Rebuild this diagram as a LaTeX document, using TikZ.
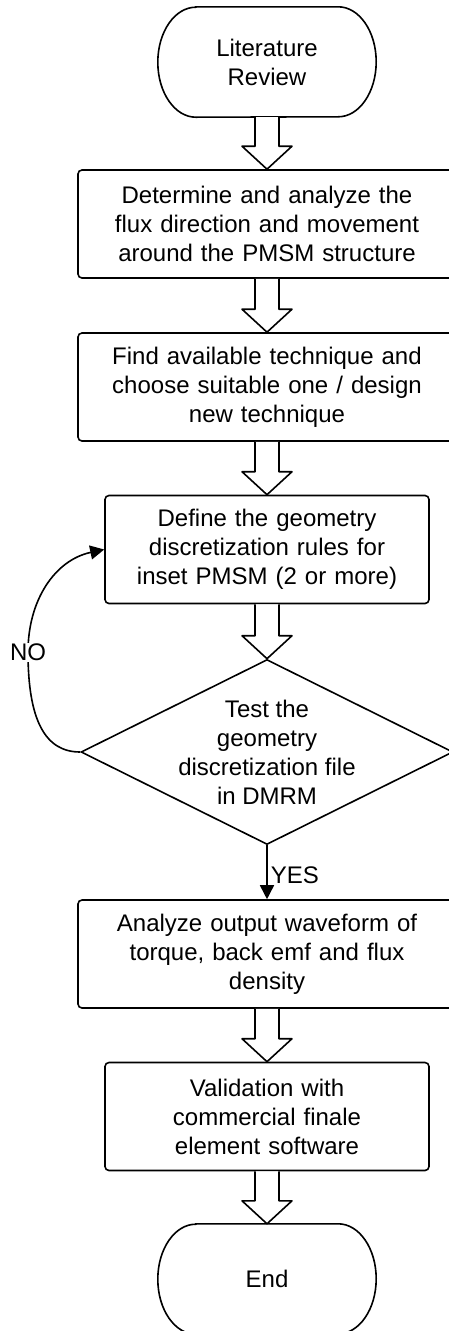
\documentclass[tikz,border=0pt]{standalone}
\usepackage{fontspec}
\setmainfont{Liberation Sans}
\usetikzlibrary{calc,shapes.geometric,arrows.meta}
\newcommand{\termshape}[1]{\draw[line] ($(#1.north west)+(38,0)$) -- ($(#1.north east)+(-38,0)$) arc[start angle=90,end angle=-90,x radius=38pt,y radius=55pt] -- ($(#1.south west)+(38,0)$) arc[start angle=-90,end angle=-270,x radius=38pt,y radius=55pt] -- cycle;}
\newcommand{\blockarr}[2]{\draw[blk] let \p1=(#1.south), \p2=(#2.north) in (\x1-12pt,\y1) -- (\x1-12pt,\y2+23pt) -- (\x1-25pt,\y2+23pt) -- (\x2,\y2) -- (\x1+25pt,\y2+23pt) -- (\x1+12pt,\y2+23pt) -- (\x1+12pt,\y1);}
\begin{document}
\begin{tikzpicture}[x=1pt,y=-1pt,
 line/.style={line width=1.6pt},
 txt/.style={font=\fontsize{24}{29}\selectfont, align=center},
 procbox/.style={line, draw, rounded corners=4pt, txt, minimum height=108pt, inner sep=0pt, text width=#1, minimum width=#1},
 term/.style={txt, minimum width=218pt, minimum height=110pt, inner sep=0pt},
 decision/.style={diamond, line, draw, minimum width=372pt, minimum height=185pt, inner sep=0pt},
 blk/.style={line, draw, fill=white, line join=round},
 flow/.style={line, -{Triangle[length=14pt,width=14pt]}},
]
\clip (0,0) rectangle (449,1331);
\fill[white] (0,0) rectangle (449,1331);

\node[term] (lit) at (267,62) {Literature\\Review};
\termshape{lit}
\node[procbox=378pt] (det) at (267,224) {Determine and analyze the\\flux direction and movement\\around the PMSM structure};
\node[procbox=378pt] (find) at (267,387) {Find available technique and\\choose suitable one / design\\new technique};
\node[procbox=324pt] (def) at (267,549.5) {Define the geometry\\discretization rules for\\inset PMSM (2 or more)};
\node[decision, label={[txt]center:{Test the\\geometry\\discretization file\\in DMRM}}] (test) at (267,752) {};
\node[procbox=378pt] (ana) at (267,954) {Analyze output waveform of\\torque, back emf and flux\\density};
\node[procbox=324pt] (val) at (267,1116.5) {Validation with\\commercial finale\\element software};
\node[term] (end) at (267,1279) {End};
\termshape{end}

\blockarr{lit}{det}
\blockarr{det}{find}
\blockarr{find}{def}
\blockarr{def}{test}
\blockarr{ana}{val}
\blockarr{val}{end}

\draw[flow] (test.south) -- (ana.north) node[pos=0.55, right, txt, inner sep=3pt] {YES};
\draw[flow] (test.west) .. controls (45,752) and (28,720) .. (28,652)
  node[txt, fill=white, inner sep=1pt] {NO}
  .. controls (28,600) and (55,560) .. (def.west);
\end{tikzpicture}
\end{document}
